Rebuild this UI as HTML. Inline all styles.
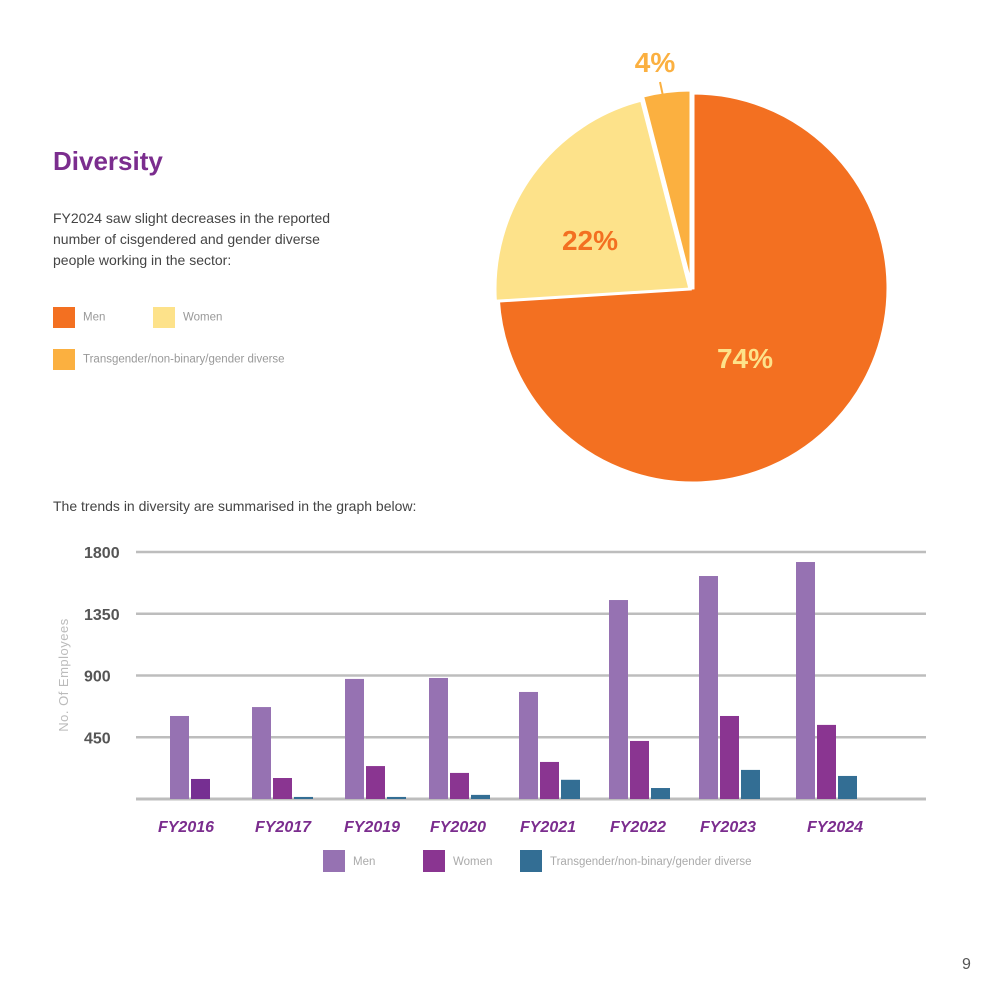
<!DOCTYPE html>
<html><head><meta charset="utf-8"><style>
body{margin:0;width:992px;height:992px;background:#fff;font-family:"Liberation Sans",sans-serif;position:relative;overflow:hidden}
.a{position:absolute}
</style></head><body>
<div class="a" style="left:53px;top:146px;font-size:26px;font-weight:bold;color:#7B2D8E">Diversity</div>
<div class="a" style="left:53px;top:208px;font-size:14px;line-height:21px;color:#444;white-space:nowrap">FY2024 saw slight decreases in the reported<br>number of cisgendered and gender diverse<br>people working in the sector:</div>
<div class="a" style="left:53px;top:307px;font-size:11.5px;color:#999"><span style="display:inline-block;width:22px;height:21px;background:#F37021;vertical-align:middle;margin-right:8px"></span>Men</div>
<div class="a" style="left:153px;top:307px;font-size:11.5px;color:#999"><span style="display:inline-block;width:22px;height:21px;background:#FDE28A;vertical-align:middle;margin-right:8px"></span>Women</div>
<div class="a" style="left:53px;top:349px;font-size:11.5px;color:#999"><span style="display:inline-block;width:22px;height:21px;background:#FBB040;vertical-align:middle;margin-right:8px"></span>Transgender/non-binary/gender diverse</div>
<div class="a" style="left:53px;top:498px;font-size:14px;color:#444">The trends in diversity are summarised in the graph below:</div>
<div class="a" style="left:962px;top:956px;font-size:16px;color:#555">9</div>
<svg class="a" style="left:0;top:0" width="992" height="992" id="svg"></svg>
<script>
const pieLabels=["Men","Women","Trans"];
const pieValues=[74,22,4];
const pieColors=["#F37021","#FDE28A","#FBB040"];
const categories=["FY2016","FY2017","FY2019","FY2020","FY2021","FY2022","FY2023","FY2024"];
const men=[605,670,875,882,780,1450,1625,1727];
const women=[146,153,240,190,270,423,605,540];
const trans=[0,15,15,30,140,80,212,168];
const ticks=[450,900,1350,1800];
const NS="http://www.w3.org/2000/svg";
const svg=document.getElementById('svg');
function mk(t,a){const e=document.createElementNS(NS,t);for(const k in a)e.setAttribute(k,a[k]);svg.appendChild(e);return e;}
const cx=693,cy=288,R=195;
const tot=pieValues.reduce((a,b)=>a+b,0);
let ang=0;
const offs=[[0,0],[-3,1],[-2,-3]];
pieValues.forEach((v,i)=>{
 const a0=ang/tot*2*Math.PI,a1=(ang+v)/tot*2*Math.PI;ang+=v;
 const ox=cx+offs[i][0],oy=cy+offs[i][1];
 const x0=ox+R*Math.sin(a0),y0=oy-R*Math.cos(a0),x1=ox+R*Math.sin(a1),y1=oy-R*Math.cos(a1);
 const p=mk('path',{d:`M${ox},${oy}L${x0},${y0}A${R},${R} 0 ${a1-a0>Math.PI?1:0} 1 ${x1},${y1}Z`,fill:pieColors[i],stroke:'#fff','stroke-width':3});
 
 
});
const pl=[[745,368,"#FDE28A"],[590,250,"#F37021"],[655,72,"#FBB040"]];
pieValues.forEach((v,i)=>{
 const t=mk('text',{x:pl[i][0],y:pl[i][1],'text-anchor':'middle','font-size':28,'font-weight':'bold',fill:pl[i][2]});
 t.textContent=v+'%';
 
 
});
mk('line',{x1:660,y1:82,x2:663,y2:96,stroke:'#FBB040','stroke-width':2});
const y0=799,y1=552,vmax=1800;
const Y=v=>y0-(v/vmax)*(y0-y1);
ticks.forEach(t=>{
 const l=mk('line',{x1:136,x2:926,y1:Y(t),y2:Y(t),stroke:'#bdbdbd','stroke-width':2.5});
 
 
 const tx=mk('text',{x:84,y:Y(t)+6,'font-size':16,'font-weight':'bold',fill:'#555'});
 tx.textContent=t;
 
 
});
const bl=mk('line',{x1:136,x2:926,y1:y0,y2:y0,stroke:'#bdbdbd','stroke-width':3});


const groupX=[170,252,345,429,519,609,699,796];
const labelX=[186,283,372,458,548,638,728,835];
const bw=19;
const series=[[men,"#9672B2","men"],[women,"#8A3591","women"],[trans,"#336E94","trans"]];
categories.forEach((c,i)=>{
 series.forEach((s,j)=>{
  const v=s[0][i]; if(v<=0)return;
  const r=mk('rect',{x:groupX[i]+j*(bw+2),y:Y(v),width:bw,height:y0-Y(v),fill:(i==0&&j==1)?'#762F92':s[1]});
  
  
 });
 const t=mk('text',{x:labelX[i],y:832,'text-anchor':'middle','font-size':16,'font-weight':'bold','font-style':'italic',fill:'#7B2D8E'});
 t.textContent=c;
 
 
});
const yt=mk('text',{x:0,y:0,transform:'translate(68,675) rotate(-90)','text-anchor':'middle','font-size':13,fill:'#bbb','letter-spacing':'0.5'});
yt.textContent='No. Of Employees';


const leg=[[323,"Men"],[423,"Women"],[520,"Transgender/non-binary/gender diverse"]];
leg.forEach((l,i)=>{
 const r=mk('rect',{x:l[0],y:850,width:22,height:22,fill:series[i][1]});
 
 
 const t=mk('text',{x:l[0]+30,y:865,'font-size':11.5,fill:'#aaa'});
 t.textContent=l[1];
 
 
});
</script>
</body></html>
